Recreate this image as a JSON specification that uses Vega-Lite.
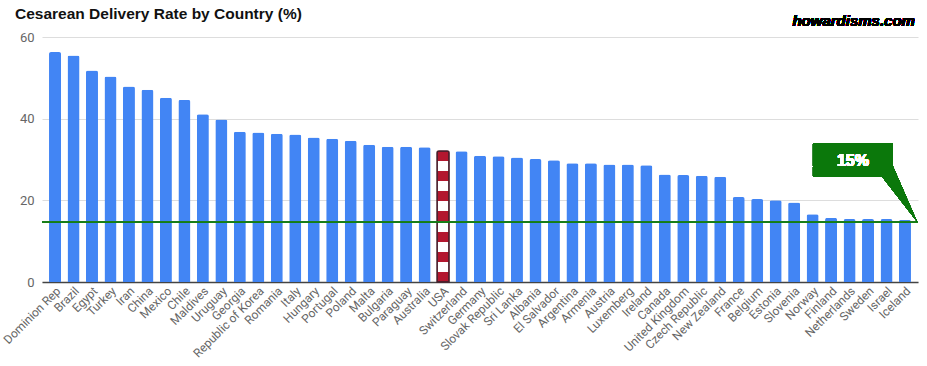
{
  "$schema": "https://vega.github.io/schema/vega-lite/v6.json",
  "width": 876,
  "height": 245,
  "autosize": "none",
  "padding": {"left": 42, "top": 37, "right": 9, "bottom": 84},
  "background": "white",
  "title": {
    "text": "Cesarean Delivery Rate by Country (%)",
    "anchor": "start",
    "frame": "group",
    "font": "Liberation Sans",
    "fontSize": 15.5,
    "fontWeight": "bold",
    "color": "#111111",
    "dx": -27,
    "offset": -9
  },
  "data": {
    "values": [
      {"country": "Dominion Rep", "rate": 56.3},
      {"country": "Brazil", "rate": 55.5},
      {"country": "Egypt", "rate": 51.8},
      {"country": "Turkey", "rate": 50.3},
      {"country": "Iran", "rate": 47.9},
      {"country": "China", "rate": 47.1},
      {"country": "Mexico", "rate": 45.1},
      {"country": "Chile", "rate": 44.6},
      {"country": "Maldives", "rate": 41.1},
      {"country": "Uruguay", "rate": 39.8},
      {"country": "Georgia", "rate": 36.8},
      {"country": "Republic of Korea", "rate": 36.6},
      {"country": "Romania", "rate": 36.3},
      {"country": "Italy", "rate": 36.1},
      {"country": "Hungary", "rate": 35.4},
      {"country": "Portugal", "rate": 35.1},
      {"country": "Poland", "rate": 34.6},
      {"country": "Malta", "rate": 33.6},
      {"country": "Bulgaria", "rate": 33.1},
      {"country": "Paraguay", "rate": 33.1},
      {"country": "Australia", "rate": 33.0},
      {"country": "USA", "rate": 32.1},
      {"country": "Switzerland", "rate": 32.0},
      {"country": "Germany", "rate": 30.9},
      {"country": "Slovak Republic", "rate": 30.8},
      {"country": "Sri Lanka", "rate": 30.5},
      {"country": "Albania", "rate": 30.1},
      {"country": "El Salvador", "rate": 29.8},
      {"country": "Argentina", "rate": 29.1},
      {"country": "Armenia", "rate": 29.1},
      {"country": "Austria", "rate": 28.8},
      {"country": "Luxemberg", "rate": 28.8},
      {"country": "Ireland", "rate": 28.6},
      {"country": "Canada", "rate": 26.3},
      {"country": "United Kingdom", "rate": 26.2},
      {"country": "Czech Republic", "rate": 26.0},
      {"country": "New Zealand", "rate": 25.8},
      {"country": "France", "rate": 20.8},
      {"country": "Belgium", "rate": 20.3},
      {"country": "Estonia", "rate": 20.0},
      {"country": "Slovenia", "rate": 19.5},
      {"country": "Norway", "rate": 16.6},
      {"country": "Finland", "rate": 15.7},
      {"country": "Netherlands", "rate": 15.4},
      {"country": "Sweden", "rate": 15.4},
      {"country": "Israel", "rate": 15.4},
      {"country": "Iceland", "rate": 15.2}
    ]
  },
  "layer": [
    {
      "mark": {"type": "bar", "cornerRadiusTopLeft": 2, "cornerRadiusTopRight": 2},
      "encoding": {
        "x": {
          "field": "country",
          "type": "nominal",
          "sort": null,
          "scale": {"paddingInner": 0.35, "paddingOuter": 0.38},
          "axis": {
            "title": null,
            "labelAngle": -45,
            "labelAlign": "right",
            "labelBaseline": "top",
            "labelFont": "Roboto",
            "labelFontSize": 12,
            "labelColor": "#666666",
            "labelPadding": 3,
            "ticks": false,
            "domainColor": "#444444",
            "domainWidth": 1.5,
            "labelOverlap": false
          }
        },
        "y": {
          "field": "rate",
          "type": "quantitative",
          "scale": {"domain": [0, 60], "nice": false},
          "axis": {
            "title": null,
            "values": [0, 20, 40, 60],
            "domain": false,
            "ticks": false,
            "labelFont": "Roboto",
            "labelFontSize": 13,
            "labelColor": "#666666",
            "labelPadding": 8,
            "gridColor": "#dddddd",
            "gridWidth": 1.2
          }
        },
        "fill": {
          "condition": {
            "test": "datum.country === 'USA'",
            "value": {
              "gradient": "linear",
              "x1": 0, "y1": 0, "x2": 0, "y2": 1,
              "stops": [
                {"offset": 0, "color": "#b3172f"}, {"offset": 0.0769, "color": "#b3172f"},
                {"offset": 0.0769, "color": "#ffffff"}, {"offset": 0.1538, "color": "#ffffff"},
                {"offset": 0.1538, "color": "#b3172f"}, {"offset": 0.2308, "color": "#b3172f"},
                {"offset": 0.2308, "color": "#ffffff"}, {"offset": 0.3077, "color": "#ffffff"},
                {"offset": 0.3077, "color": "#b3172f"}, {"offset": 0.3846, "color": "#b3172f"},
                {"offset": 0.3846, "color": "#ffffff"}, {"offset": 0.4615, "color": "#ffffff"},
                {"offset": 0.4615, "color": "#b3172f"}, {"offset": 0.5385, "color": "#b3172f"},
                {"offset": 0.5385, "color": "#ffffff"}, {"offset": 0.6154, "color": "#ffffff"},
                {"offset": 0.6154, "color": "#b3172f"}, {"offset": 0.6923, "color": "#b3172f"},
                {"offset": 0.6923, "color": "#ffffff"}, {"offset": 0.7692, "color": "#ffffff"},
                {"offset": 0.7692, "color": "#b3172f"}, {"offset": 0.8462, "color": "#b3172f"},
                {"offset": 0.8462, "color": "#ffffff"}, {"offset": 0.9231, "color": "#ffffff"},
                {"offset": 0.9231, "color": "#b3172f"}, {"offset": 1, "color": "#b3172f"}
              ]
            }
          },
          "value": "#4285f4"
        },
        "stroke": {
          "condition": {"test": "datum.country === 'USA'", "value": "#4a1f2c"},
          "value": null
        },
        "strokeWidth": {
          "condition": {"test": "datum.country === 'USA'", "value": 1.5},
          "value": 0
        }
      }
    },
    {
      "mark": {"type": "rule", "color": "#1e7b1e", "strokeWidth": 1},
      "encoding": {"y": {"datum": 14.8}}
    },
    {
      "mark": {
        "type": "point",
        "shape": "M-92,-78 L-12,-78 L-12,-55 L12,0 L-23,-45 L-92,-45 Z",
        "size": 4,
        "filled": true,
        "fill": "#0b780b",
        "opacity": 1,
        "strokeWidth": 0
      },
      "encoding": {"x": {"datum": "Iceland"}, "y": {"datum": 14.8}}
    },
    {
      "mark": {
        "type": "text",
        "text": "15%",
        "font": "Liberation Sans",
        "fontSize": 16,
        "fontWeight": "bold",
        "fill": "#ffffff",
        "align": "center",
        "baseline": "middle",
        "dx": -52,
        "dy": -61
      },
      "encoding": {"x": {"datum": "Iceland"}, "y": {"datum": 14.8}}
    },
    {
      "mark": {
        "type": "text",
        "text": "howardisms.com",
        "font": "Liberation Sans",
        "fontSize": 15,
        "fontWeight": "bold",
        "fontStyle": "italic",
        "fill": "#000000",
        "align": "right",
        "baseline": "middle",
        "dx": 10
      },
      "encoding": {"x": {"datum": "Iceland"}, "y": {"datum": 64.0}}
    }
  ],
  "config": {"view": {"stroke": null}}
}
